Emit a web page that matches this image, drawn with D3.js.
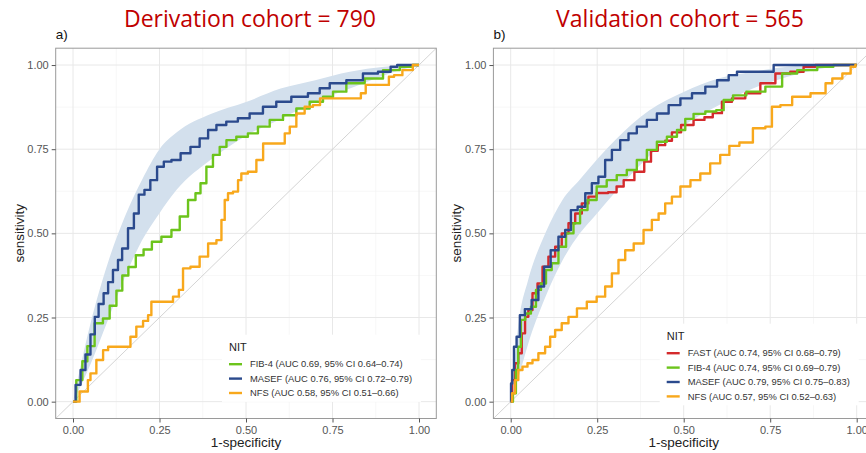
<!DOCTYPE html>
<html>
<head>
<meta charset="utf-8">
<script src="https://cdn.jsdelivr.net/npm/d3@7"></script>
<style>
  body { margin: 0; background: #fff; }
  text { font-family: "Liberation Sans", Arial, sans-serif; }
</style>
</head>
<body>
<svg width="866" height="453"></svg>
<script>
// ROC points, as [1-specificity, sensitivity]
const derivFib4 = [[0,0],[0.019,0.064],[0.035,0.12],[0.048,0.165],[0.077,0.233],[0.096,0.247],[0.116,0.285],[0.135,0.330],[0.150,0.375],[0.170,0.400],[0.193,0.435],[0.215,0.452],[0.241,0.475],[0.270,0.490],[0.299,0.510],[0.318,0.550],[0.347,0.599],[0.361,0.619],[0.376,0.649],[0.395,0.698],[0.414,0.733],[0.434,0.757],[0.453,0.777],[0.491,0.787],[0.520,0.797],[0.549,0.817],[0.588,0.837],[0.626,0.851],[0.665,0.871],[0.703,0.891],[0.742,0.906],[0.761,0.921],[0.819,0.946],[0.867,0.960],[0.925,0.985],[0.964,0.995],[1,1]];
const derivMasef = [[0,0],[0.015,0.05],[0.029,0.094],[0.043,0.14],[0.058,0.2],[0.068,0.252],[0.08,0.29],[0.097,0.322],[0.106,0.355],[0.125,0.391],[0.135,0.421],[0.149,0.455],[0.169,0.515],[0.183,0.559],[0.197,0.615],[0.216,0.629],[0.231,0.658],[0.255,0.698],[0.270,0.713],[0.299,0.718],[0.323,0.738],[0.356,0.757],[0.376,0.782],[0.405,0.807],[0.424,0.822],[0.462,0.832],[0.491,0.842],[0.530,0.856],[0.568,0.876],[0.607,0.891],[0.655,0.906],[0.703,0.916],[0.723,0.931],[0.761,0.946],[0.819,0.955],[0.857,0.975],[0.906,0.980],[0.930,0.995],[0.944,1],[1,1]];
const derivNfs = [[0,0],[0.019,0],[0.019,0.03],[0.043,0.03],[0.043,0.064],[0.058,0.084],[0.077,0.124],[0.097,0.153],[0.106,0.163],[0.159,0.163],[0.173,0.193],[0.193,0.223],[0.212,0.240],[0.222,0.257],[0.231,0.297],[0.279,0.297],[0.299,0.312],[0.313,0.332],[0.323,0.396],[0.356,0.401],[0.376,0.431],[0.405,0.470],[0.424,0.480],[0.434,0.540],[0.443,0.599],[0.453,0.619],[0.472,0.624],[0.482,0.658],[0.491,0.678],[0.520,0.683],[0.540,0.718],[0.559,0.767],[0.607,0.767],[0.617,0.797],[0.636,0.817],[0.655,0.856],[0.684,0.876],[0.703,0.881],[0.725,0.901],[0.829,0.901],[0.835,0.916],[0.857,0.941],[0.91,0.941],[0.916,0.965],[0.94,0.97],[0.964,0.985],[1,1]];

const validFast = [[0,0],[0.008,0.064],[0.017,0.114],[0.027,0.144],[0.037,0.203],[0.046,0.252],[0.056,0.272],[0.070,0.322],[0.085,0.351],[0.099,0.401],[0.119,0.431],[0.138,0.460],[0.157,0.500],[0.177,0.530],[0.196,0.559],[0.215,0.589],[0.234,0.609],[0.263,0.620],[0.300,0.622],[0.312,0.639],[0.341,0.658],[0.374,0.683],[0.398,0.713],[0.413,0.745],[0.437,0.762],[0.456,0.775],[0.476,0.800],[0.509,0.822],[0.548,0.837],[0.572,0.845],[0.596,0.857],[0.625,0.891],[0.654,0.901],[0.702,0.916],[0.741,0.946],[0.789,0.975],[0.827,0.980],[0.866,0.995],[0.895,1],[1,1]];
const validFib4 = [[0,0],[0.013,0.025],[0.017,0.094],[0.026,0.163],[0.033,0.243],[0.051,0.262],[0.066,0.282],[0.080,0.332],[0.095,0.351],[0.109,0.391],[0.128,0.411],[0.148,0.460],[0.172,0.500],[0.191,0.530],[0.210,0.569],[0.234,0.599],[0.263,0.639],[0.292,0.658],[0.321,0.673],[0.350,0.688],[0.379,0.718],[0.408,0.748],[0.437,0.772],[0.466,0.787],[0.495,0.807],[0.514,0.840],[0.543,0.855],[0.582,0.862],[0.606,0.866],[0.625,0.896],[0.660,0.910],[0.702,0.921],[0.770,0.936],[0.799,0.975],[0.857,0.985],[0.915,0.995],[0.95,1],[1,1]];
const validMasef = [[0,0],[0.002,0.054],[0.007,0.094],[0.012,0.163],[0.022,0.193],[0.031,0.257],[0.051,0.275],[0.070,0.302],[0.090,0.342],[0.103,0.401],[0.128,0.450],[0.148,0.490],[0.167,0.510],[0.181,0.569],[0.206,0.579],[0.225,0.619],[0.244,0.649],[0.263,0.668],[0.283,0.718],[0.302,0.748],[0.331,0.777],[0.350,0.797],[0.379,0.817],[0.408,0.837],[0.437,0.856],[0.476,0.881],[0.505,0.901],[0.543,0.916],[0.582,0.936],[0.611,0.955],[0.649,0.970],[0.659,0.980],[0.755,0.980],[0.765,1],[1,1]];
const validNfs = [[0,0],[0.008,0.025],[0.017,0.064],[0.027,0.094],[0.041,0.104],[0.056,0.114],[0.070,0.124],[0.090,0.144],[0.109,0.163],[0.119,0.193],[0.138,0.213],[0.157,0.233],[0.177,0.252],[0.206,0.277],[0.234,0.297],[0.263,0.312],[0.283,0.342],[0.302,0.381],[0.321,0.421],[0.341,0.450],[0.370,0.470],[0.398,0.510],[0.418,0.540],[0.437,0.559],[0.456,0.589],[0.476,0.609],[0.505,0.639],[0.534,0.658],[0.562,0.678],[0.591,0.708],[0.620,0.733],[0.644,0.760],[0.678,0.770],[0.722,0.812],[0.750,0.817],[0.760,0.876],[0.799,0.881],[0.828,0.906],[0.905,0.916],[0.915,0.946],[0.944,0.960],[0.973,0.975],[0.992,0.995],[1,1]];

// MASEF confidence band
const derivCiX = [0, 0.05, 0.1, 0.15, 0.2, 0.25, 0.3, 0.4, 0.5, 0.6, 0.7, 0.8, 0.9, 1];
const derivCiHigh = [0, 0.23, 0.41, 0.55, 0.66, 0.75, 0.80, 0.855, 0.89, 0.93, 0.955, 0.98, 0.995, 1];
const derivCiLow = [0, 0.11, 0.24, 0.37, 0.48, 0.56, 0.63, 0.72, 0.79, 0.84, 0.89, 0.93, 0.97, 1];
const validCiX = [0, 0.025, 0.05, 0.1, 0.15, 0.2, 0.25, 0.3, 0.4, 0.5, 0.6, 0.7, 0.8, 0.9, 1];
const validCiHigh = [0, 0.25, 0.36, 0.50, 0.60, 0.66, 0.72, 0.775, 0.865, 0.92, 0.96, 0.98, 0.995, 1, 1];
const validCiLow = [0, 0.08, 0.17, 0.31, 0.42, 0.50, 0.56, 0.62, 0.73, 0.82, 0.88, 0.93, 0.965, 0.99, 1];

const derivLabels = ['FIB-4 (AUC 0.69, 95% CI 0.64\u20130.74)', 'MASEF (AUC 0.76, 95% CI 0.72\u20130.79)', 'NFS (AUC 0.58, 95% CI 0.51\u20130.66)'];
const validLabels = ['FAST (AUC 0.74, 95% CI 0.68\u20130.79)', 'FIB-4 (AUC 0.74, 95% CI 0.69\u20130.79)', 'MASEF (AUC 0.79, 95% CI 0.75\u20130.83)', 'NFS (AUC 0.57, 95% CI 0.52\u20130.63)'];
const ticks = [0, 0.25, 0.5, 0.75, 1];
const minorTicks = [0.125, 0.375, 0.625, 0.875];

const colors = {
  FAST: '#d42a2c',
  FIB4: '#6cc41c',
  MASEF: '#2b4a8d',
  NFS: '#f8a81c',
};

const svg = d3.select('svg');

function drawPanel(p) {
  const x = d3.scaleLinear().domain([-0.05, 1.05]).range([p.left, p.left + 380.6]);
  const y = d3.scaleLinear().domain([-0.05, 1.05]).range([418.5, 48.2]);
  const g = svg.append('g');

  g.append('clipPath').attr('id', p.id)
    .append('rect')
    .attr('x', x(-0.05)).attr('y', y(1.05))
    .attr('width', x(1.05) - x(-0.05)).attr('height', y(-0.05) - y(1.05));

  // grid
  g.selectAll('.minor-x').data(minorTicks).enter().append('line')
    .attr('x1', d => x(d)).attr('x2', d => x(d))
    .attr('y1', y(-0.05)).attr('y2', y(1.05))
    .attr('stroke', '#f2f2f2').attr('stroke-width', 0.6);
  g.selectAll('.minor-y').data(minorTicks).enter().append('line')
    .attr('y1', d => y(d)).attr('y2', d => y(d))
    .attr('x1', x(-0.05)).attr('x2', x(1.05))
    .attr('stroke', '#f2f2f2').attr('stroke-width', 0.6);
  g.selectAll('.major-x').data(ticks).enter().append('line')
    .attr('x1', d => x(d)).attr('x2', d => x(d))
    .attr('y1', y(-0.05)).attr('y2', y(1.05))
    .attr('stroke', '#e8e8e8').attr('stroke-width', 1);
  g.selectAll('.major-y').data(ticks).enter().append('line')
    .attr('y1', d => y(d)).attr('y2', d => y(d))
    .attr('x1', x(-0.05)).attr('x2', x(1.05))
    .attr('stroke', '#e8e8e8').attr('stroke-width', 1);

  const plot = g.append('g').attr('clip-path', `url(#${p.id})`);

  // MASEF confidence band
  const band = p.ciX.map((v, i) => ({x: v, lo: p.ciLow[i], hi: p.ciHigh[i]}));
  plot.append('path')
    .datum(band)
    .attr('fill', '#d3e0ed')
    .attr('d', d3.area().x(d => x(d.x)).y0(d => y(d.lo)).y1(d => y(d.hi)).curve(d3.curveMonotoneX));

  // chance line across the whole panel
  plot.append('line')
    .attr('x1', x(-0.05)).attr('y1', y(-0.05))
    .attr('x2', x(1.05)).attr('y2', y(1.05))
    .attr('stroke', '#cfcfcf').attr('stroke-width', 0.9);

  // ROC curves are drawn as stairs
  const line = d3.line().x(d => x(d[0])).y(d => y(d[1])).curve(d3.curveStep);
  p.series.forEach((s) => {
    plot.append('path')
      .datum(s.points)
      .attr('fill', 'none')
      .attr('stroke', s.color)
      .attr('stroke-width', 2.4)
      .attr('stroke-linejoin', 'round')
      .attr('d', line);
  });

  // border
  g.append('rect')
    .attr('x', x(-0.05)).attr('y', y(1.05))
    .attr('width', x(1.05) - x(-0.05)).attr('height', y(-0.05) - y(1.05))
    .attr('fill', 'none').attr('stroke', '#9a9a9a').attr('stroke-width', 1);

  // axes
  const xAxis = g.append('g')
    .attr('transform', `translate(0,${y(-0.05)})`)
    .call(d3.axisBottom(x).tickValues(ticks).tickFormat(d3.format('.2f')).tickSize(4).tickPadding(4));
  const yAxis = g.append('g')
    .attr('transform', `translate(${x(-0.05)},0)`)
    .call(d3.axisLeft(y).tickValues(ticks).tickFormat(d3.format('.2f')).tickSize(4).tickPadding(3));
  [xAxis, yAxis].forEach((a) => {
    a.select('.domain').remove();
    a.selectAll('line').attr('stroke', '#555');
    a.selectAll('text').attr('fill', '#555').style('font-size', '11px')
      .style('font-family', '"Liberation Sans", Arial, sans-serif');
  });

  g.append('text')
    .attr('x', (x(-0.05) + x(1.05)) / 2).attr('y', 447)
    .attr('text-anchor', 'middle').attr('fill', '#222')
    .style('font-size', '13.5px')
    .text('1-specificity');
  g.append('text')
    .attr('transform', `translate(${p.left - 32},${(y(-0.05) + y(1.05)) / 2}) rotate(-90)`)
    .attr('text-anchor', 'middle').attr('fill', '#222')
    .style('font-size', '13.5px')
    .text('sensitivity');

  g.append('text')
    .attr('x', p.left).attr('y', 39)
    .attr('fill', '#111').style('font-size', '13.5px')
    .text(p.tag);
  g.append('text')
    .attr('x', p.titleX).attr('y', 27)
    .attr('text-anchor', 'middle').attr('fill', '#c00000')
    .style('font-family', '"Open Sans", "Noto Sans", sans-serif')
    .style('font-size', '23px')
    .text(p.title);

  // legend
  const lg = g.append('g').attr('transform', `translate(${p.legendX},${p.legendY})`);
  lg.append('rect')
    .attr('x', -7).attr('y', -12)
    .attr('width', 199).attr('height', 24 + p.series.length * 14.4)
    .attr('fill', '#fff');
  lg.append('text')
    .attr('x', 0).attr('y', 4).attr('fill', '#222')
    .style('font-size', '11px')
    .text('NIT');
  p.series.forEach((s, i) => {
    const ry = 17.5 + i * 14.4;
    lg.append('line')
      .attr('x1', 0).attr('x2', 13).attr('y1', ry).attr('y2', ry)
      .attr('stroke', s.color).attr('stroke-width', 2.4);
    lg.append('text')
      .attr('x', 21).attr('y', ry + 3.3).attr('fill', '#333')
      .style('font-size', '9.4px')
      .text(s.label);
  });
}

drawPanel({
  id: 'clip-a', left: 55.7, tag: 'a)', title: 'Derivation cohort = 790', titleX: 250,
  legendX: 229, legendY: 346.7,
  ciX: derivCiX, ciLow: derivCiLow, ciHigh: derivCiHigh,
  series: [
    {label: derivLabels[0], color: colors.FIB4, points: derivFib4},
    {label: derivLabels[1], color: colors.MASEF, points: derivMasef},
    {label: derivLabels[2], color: colors.NFS, points: derivNfs},
  ],
});

drawPanel({
  id: 'clip-b', left: 493.4, tag: 'b)', title: 'Validation cohort = 565', titleX: 680,
  legendX: 666.7, legendY: 335.7,
  ciX: validCiX, ciLow: validCiLow, ciHigh: validCiHigh,
  series: [
    {label: validLabels[0], color: colors.FAST, points: validFast},
    {label: validLabels[1], color: colors.FIB4, points: validFib4},
    {label: validLabels[2], color: colors.MASEF, points: validMasef},
    {label: validLabels[3], color: colors.NFS, points: validNfs},
  ],
});
</script>
</body>
</html>
